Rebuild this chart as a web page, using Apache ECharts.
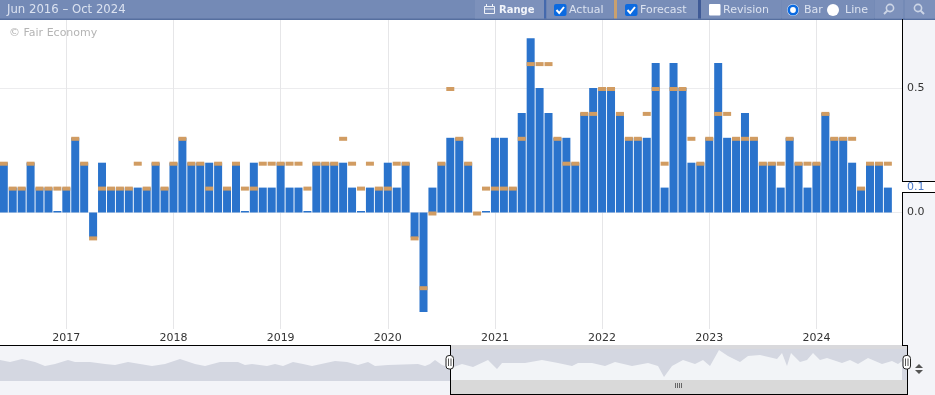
<!DOCTYPE html>
<html>
<head>
<meta charset="utf-8">
<style>html,body{margin:0;padding:0;background:#fff}#c{width:935px;height:395px}</style>
<script src="https://cdn.jsdelivr.net/npm/echarts@6/dist/echarts.min.js"></script>
</head>
<body>
<div id="c"></div>
<script>
// Monthly values, Jun 2016 onward (index 0 = Jun 2016)
var actual = [0.2,0.1,0.1,0.2,0.1,0.1,0,0.1,0.3,0.2,-0.1,0.2,0.1,0.1,0.1,0.1,0.1,0.2,0.1,0.2,0.3,0.2,0.2,0.2,0.2,0.1,0.2,0,0.2,0.1,0.1,0.2,0.1,0.1,0,0.2,0.2,0.2,0.2,0.1,0,0.1,0.1,0.2,0.1,0.2,-0.1,-0.4,0.1,0.2,0.3,0.3,0.2,null,0,0.3,0.3,0.1,0.4,0.7,0.5,0.4,0.3,0.3,0.2,0.4,0.5,0.5,0.5,0.4,0.3,0.3,0.3,0.6,0.1,0.6,0.5,0.2,0.2,0.3,0.6,0.3,0.3,0.4,0.3,0.2,0.2,0.1,0.3,0.2,0.1,0.2,0.4,0.3,0.3,0.2,0.1,0.2,0.2,0.1];
var forecast = [0.2,0.1,0.1,0.2,0.1,0.1,0.1,0.1,0.3,0.2,-0.1,0.1,0.1,0.1,0.1,0.2,0.1,0.2,0.1,0.2,0.3,0.2,0.2,0.1,0.2,0.1,0.2,0.1,0.1,0.2,0.2,0.2,0.2,0.2,0.1,0.2,0.2,0.2,0.3,0.2,0.1,0.2,0.1,0.1,0.2,0.2,-0.1,-0.3,0,0.2,0.5,0.3,0.2,0,0.1,0.1,0.1,0.1,0.3,0.6,0.6,0.6,0.3,0.2,0.2,0.4,0.4,0.5,0.5,0.4,0.3,0.3,0.4,0.5,0.2,0.5,0.5,0.3,0.2,0.3,0.4,0.4,0.3,0.3,0.3,0.2,0.2,0.2,0.3,0.2,0.2,0.2,0.4,0.3,0.3,0.3,0.1,0.2,0.2,0.2];
var yearLabels = ['2017','2018','2019','2020','2021','2022','2023','2024'];
var yearMonthIndex = [7,19,31,43,55,67,79,91];
var valueTicks = [0,0.5];
var rangeTitle = 'Jun 2016 \u2013 Oct 2024';
var credit = '\u00a9 Fair Economy';
var currentValue = '0.1';
// Overview strip profile: horizontal place along the strip, and level above its floor
var overviewPastPos = [0,10,22,35,45,55,68,75,90,105,115,128,140,152,165,180,195,205,220,238,245,252,267,275,283,293,303,312,335,347,358,368,375,388,418,425,430,435,442,451];
var overviewPastLevel = [21,19,22,19,15,17,21,19,19,17,16,19,17,15,17,22,17,15,19,19,16,17,15,17,15,19,17,15,20,19,16,19,15,16,17,15,17,21,16,13];
var overviewPos = [451,452,462,473,488,497,502,525,542,558,572,578,592,605,615,632,648,658,664,672,683,695,703,710,719,728,740,748,760,777,782,787,791,800,807,813,820,827,842,850,858,868,882,892,898,902];
var overviewLevel = [13,12,17,14,21,12,18,18,21,18,15,18,18,15,19,15,18,15,4,15,21,17,21,15,31,25,19,25,26,22,28,15,28,19,21,28,21,23,18,21,17,23,17,20,17,20];

var BAR = '#2a73cc', MARK = '#d19c62', LINE = '#000', PANEL = '#f3f4f8', DARK = '#d4d7e1';
var FONT = '"DejaVu Sans"';
var TXT = '#dbe2f0';

function rect(x,y,w,h,fill,z,r){return {type:'rect',silent:true,z:z===undefined?10:z,shape:{x:x,y:y,width:w,height:h,r:r||0},style:{fill:fill}};}
function line(x1,y1,x2,y2,c,w,z){return {type:'line',silent:true,z:z===undefined?10:z,shape:{x1:x1,y1:y1,x2:x2,y2:y2},style:{stroke:c||LINE,lineWidth:w||1}};}
function text(x,y,s,fill,font,align){return {type:'text',silent:true,z:11,style:{x:x,y:y,text:s,fill:fill,font:font||('11px '+FONT),textAlign:align||'left',textVerticalAlign:'middle'}};}
function circle(cx,cy,r,fill,stroke,lw){return {type:'circle',silent:true,z:11,shape:{cx:cx,cy:cy,r:r},style:{fill:fill,stroke:stroke||null,lineWidth:lw||0}};}
function check(x,y){return [
  rect(x,y,12.5,12,'#0b6ae0',11,2),
  {type:'polyline',silent:true,z:12,shape:{points:[[x+2.5,y+6],[x+5.2,y+9],[x+10,y+3]]},style:{stroke:'#fff',lineWidth:2,fill:null}}
];}
function glass(cx,cy,flip){return [
  circle(cx,cy,3.6,null,'#ccd5e6',1.6),
  line(cx+(flip?2.6:-2.6),cy+2.6,cx+(flip?6:-6),cy+6,'#ccd5e6',2)
];}
function handle(x,y){return [
  rect(x,y,7.5,13.5,'#fff',12,3),
  {type:'rect',silent:true,z:12,shape:{x:x,y:y,width:7.5,height:13.5,r:3},style:{fill:'#fff',stroke:'#222',lineWidth:1}},
  line(x+2.5,y+3,x+2.5,y+10.5,'#555',1,13),
  line(x+5,y+3,x+5,y+10.5,'#555',1,13)
];}

var g = [];
// Right panel and overview backgrounds
g.push(rect(903,20,32,375,PANEL,-1));
g.push(rect(0,345,451,50,PANEL,-1));
g.push(rect(451,345,456,36,DARK,-1));
g.push(rect(451,345,456,4,'#d9d9dc',-1));
// Toolbar
g.push(rect(0,0,935,19,'#748ab6',10));
g.push(rect(0,18.5,935,1.5,'#566f9f',10));
g.push(rect(475,0,69,18.5,'#7d91bb',10));
g.push(rect(544,0,2.5,18.5,'#4469ad',10));
g.push(rect(546.5,0,67,18.5,'#788dB8',10));
g.push(rect(614,0,3,18.5,'#c9a06e',10));
g.push(rect(617,0,81,18.5,'#788db8',10));
g.push(rect(698,0,3,18.5,'#3f5a96',10));
g.push(rect(701,0,80,18.5,'#788db8',10));
g.push(rect(782,0,92,18.5,'#788db8',10));
g.push(rect(875,0,28,18.5,'#7d91bb',10));
g.push(rect(905,0,30,18.5,'#7d91bb',10));
g.push(text(7,10,rangeTitle,TXT,'11.7px '+FONT));
// Range icon
g.push({type:'rect',silent:true,z:11,shape:{x:484.5,y:6.5,width:10,height:7},style:{fill:null,stroke:'#eef1f8',lineWidth:1}});
g.push(line(484,9,495,9,'#eef1f8',1,11));
g.push(line(486.5,4,486.5,7,'#eef1f8',1,11));
g.push(line(492.5,4,492.5,7,'#eef1f8',1,11));
g.push(text(499,10,'Range','#f1f4fa','bold 10px '+FONT));
g = g.concat(check(554,4));
g.push(text(569,10,'Actual',TXT));
g = g.concat(check(625,4));
g.push(text(640,10,'Forecast',TXT));
g.push(rect(709,4,11.5,11.5,'#fff',11,1));
g.push(text(723,10,'Revision',TXT));
g.push(circle(793,10,6,'#e9eef8'));
g.push(circle(793,10,4.2,'#fff','#0b6ae0',2.6));
g.push(text(804,10,'Bar',TXT));
g.push(circle(833,10,6,'#fff'));
g.push(text(845,10,'Line',TXT));
g = g.concat(glass(890,8,false));
g = g.concat(glass(918,8,true));
// Frame of the plot and of the current value label
g.push(line(902.5,19,902.5,182));
g.push(line(902.5,192,902.5,345));
g.push(rect(903,182,32,10,'#fff',-1));
g.push(line(902,181.5,935,181.5));
g.push(line(902,192.5,935,192.5));
g.push(text(907,187,currentValue,'#4a78c8'));
// Overview frame
g.push(line(0,345.5,451,345.5));
g.push(line(450.5,345,450.5,395));
g.push(line(450,394.5,908,394.5));
g.push(line(907.5,345,907.5,395));
g.push(line(902,345.5,908,345.5));
g.push(rect(451,380,456,14,'#d9d9d9',3));
for (var k=0;k<4;k++) g.push(line(675.5+k*2,383,675.5+k*2,388,'#666',1,4));
g = g.concat(handle(446,355.5));
g = g.concat(handle(903,355.5));
g.push({type:'polygon',silent:true,z:11,shape:{points:[[915,368],[923,368],[919,364]]},style:{fill:'#555'}});
g.push({type:'polygon',silent:true,z:11,shape:{points:[[915,370],[923,370],[919,374]]},style:{fill:'#555'}});
// Credit
g.push({type:'text',silent:true,z:3,style:{x:9,y:33,text:credit,fill:'#b4b4b4',font:'11px '+FONT,textVerticalAlign:'middle'}});

function pairs(arr){return arr.map(function(v,i){return [i,v];});}
function zip(a,b){return a.map(function(v,i){return [v,b[i]];});}

var chart = echarts.init(document.getElementById('c'),null,{renderer:'canvas'});
chart.setOption({
  animation:false,
  backgroundColor:'#fff',
  grid:[
    {left:0,top:20,width:902.5,height:309,containLabel:false},
    {left:0,top:345,width:907,height:36}
  ],
  xAxis:[
    {gridIndex:0,type:'value',min:-0.4255,max:100.64,
     axisLine:{show:false},axisTick:{show:false,customValues:yearMonthIndex},
     splitLine:{show:true,lineStyle:{color:'#e6e6e8',width:1}},
     axisLabel:{customValues:yearMonthIndex,margin:4,color:'#333',fontFamily:FONT.replace(/"/g,''),fontSize:11,
       formatter:function(v){return yearLabels[yearMonthIndex.indexOf(v)];}}},
    {gridIndex:1,type:'value',min:0,max:907,show:false}
  ],
  yAxis:[
    {gridIndex:0,type:'value',position:'right',min:-0.4679,max:0.7731,
     axisLine:{show:false},axisTick:{show:false,customValues:valueTicks},
     splitLine:{show:true,lineStyle:{color:'#ececee',width:1}},
     axisLabel:{customValues:valueTicks,margin:4.5,padding:[2,0,0,0],color:'#333',fontFamily:FONT.replace(/"/g,''),fontSize:11,
       formatter:function(v){return v.toFixed(1);}}},
    {gridIndex:1,type:'value',min:0,max:36,show:false}
  ],
  series:[
    {type:'bar',name:'Actual',xAxisIndex:0,yAxisIndex:0,data:pairs(actual),barWidth:8,barMinHeight:1.5,
     itemStyle:{color:BAR},z:2},
    {type:'scatter',name:'Forecast',xAxisIndex:0,yAxisIndex:0,data:pairs(forecast),symbol:'rect',symbolSize:[8,4],symbolOffset:[0,1],
     itemStyle:{color:MARK,opacity:1},z:4},
    {type:'line',name:'Overview past',xAxisIndex:1,yAxisIndex:1,data:zip(overviewPastPos,overviewPastLevel),showSymbol:false,
     lineStyle:{width:0},areaStyle:{color:DARK,opacity:1},z:1},
    {type:'line',name:'Overview',xAxisIndex:1,yAxisIndex:1,data:zip(overviewPos,overviewLevel),showSymbol:false,
     lineStyle:{width:0},areaStyle:{color:'#f2f4f7',opacity:1},z:1}
  ],
  graphic:{elements:g}
});
</script>
</body>
</html>
